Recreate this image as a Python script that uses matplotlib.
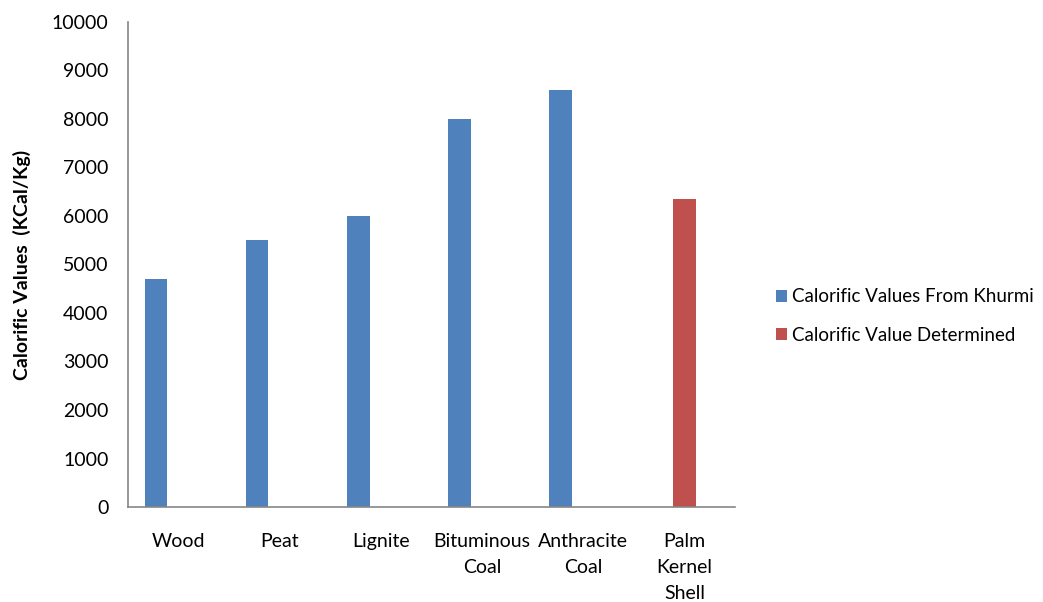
import matplotlib.pyplot as plt
import numpy as np

plt.rcParams['font.family'] = ['Lato', 'DejaVu Sans']

categories = ['Wood', 'Peat', 'Lignite', 'Bituminous\nCoal', 'Anthracite\nCoal', 'Palm\nKernel\nShell']
khurmi = [4700, 5500, 6000, 8000, 8600, 0]
determined = [0, 0, 0, 0, 0, 6350]
yticks = [0, 1000, 2000, 3000, 4000, 5000, 6000, 7000, 8000, 9000, 10000]

blue = '#4F81BD'
red = '#C0504D'
gray = '#868686'
fs = 14

fig = plt.figure(figsize=(10.43, 6.02), dpi=100)
ax = fig.add_axes([0.1227, 0.1578, 0.582, 0.8057])

x = np.arange(len(categories))
w = 0.223
b1 = ax.bar(x - w, khurmi, width=w, color=blue, label='Calorific Values From Khurmi')
b2 = ax.bar(x, determined, width=w, color=red, label='Calorific Value Determined')

ax.set_xlim(-0.5, 5.5)
ax.set_ylim(0, 10000)
ax.set_yticks(yticks)
ax.set_xticks(x)
ax.set_xticklabels(categories, linespacing=1.62, fontsize=fs)
for t in ax.get_yticklabels():
    t.set_fontsize(fs)
ax.tick_params(axis='y', length=0, pad=14)
ax.tick_params(axis='x', length=0, pad=19)

for s in ['top', 'right']:
    ax.spines[s].set_visible(False)
for s in ['left', 'bottom']:
    ax.spines[s].set_color(gray)
    ax.spines[s].set_linewidth(1.2)

ax.set_ylabel('Calorific Values  (KCal/Kg)', fontsize=fs, fontweight='bold')
ax.yaxis.set_label_coords(-0.16, 0.5)

fig.legend(handles=[b1, b2], loc='center left', bbox_to_anchor=(0.740, 0.475),
           frameon=False, fontsize=13.5, handlelength=0.6, handleheight=0.6,
           handletextpad=0.3, labelspacing=1.15, borderaxespad=0, borderpad=0.2)

fig.savefig('out.png', dpi=100)
